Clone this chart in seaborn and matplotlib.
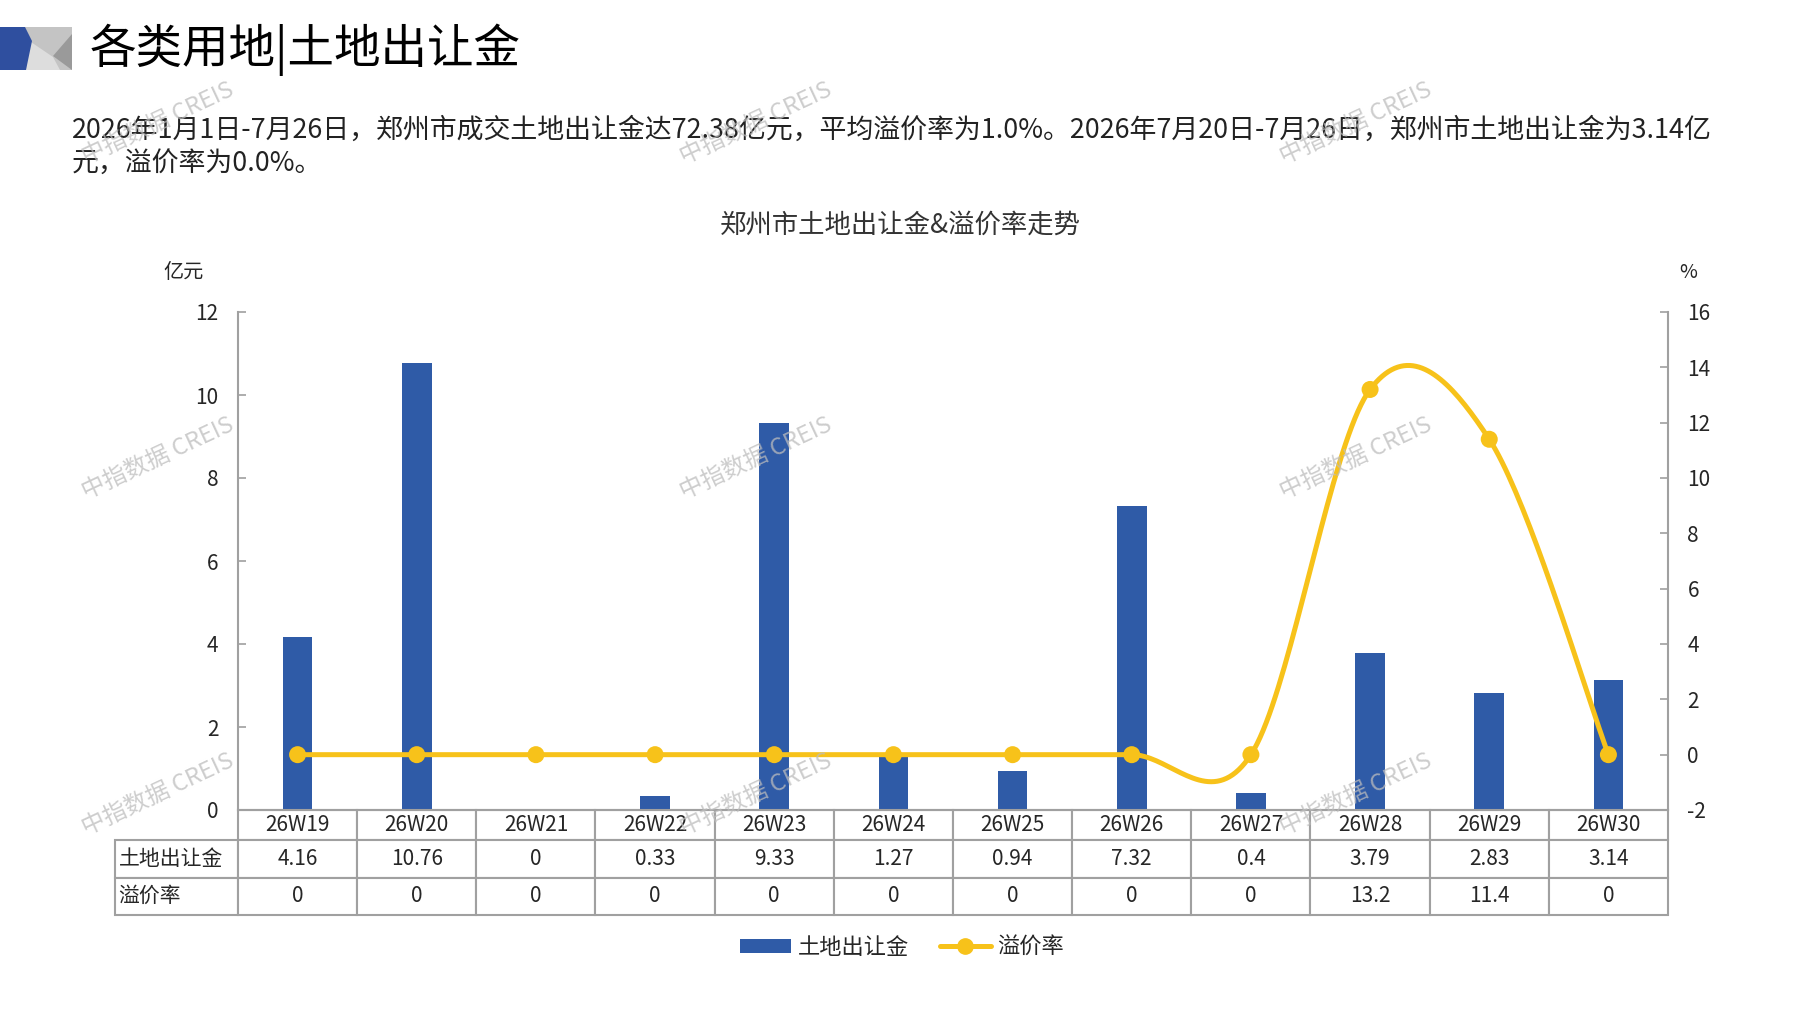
"""
郑州市土地出让金 & 溢价率走势 (weekly bars + smoothed premium line + data table)
"""

import numpy as np
import matplotlib
matplotlib.use("Agg")
import matplotlib.pyplot as plt
from matplotlib.patches import Polygon, Patch
from matplotlib.lines import Line2D
import seaborn as sns

# ── data ──────────────────────────────────────────────────────────────
WEEKS = ["26W19", "26W20", "26W21", "26W22", "26W23", "26W24",
         "26W25", "26W26", "26W27", "26W28", "26W29", "26W30"]
LAND_FEE = [4.16, 10.76, 0, 0.33, 9.33, 1.27, 0.94, 7.32, 0.4, 3.79, 2.83, 3.14]
PREMIUM = [0, 0, 0, 0, 0, 0, 0, 0, 0, 13.2, 11.4, 0]

SERIES_NAMES = ["土地出让金", "溢价率"]
LEFT_TICKS = [0, 2, 4, 6, 8, 10, 12]
RIGHT_TICKS = [-2, 0, 2, 4, 6, 8, 10, 12, 14, 16]

HEADER = "各类用地|土地出让金"
SUMMARY_1 = ("2026年1月1日-7月26日，郑州市成交土地出让金达72.38亿元，平均溢价率为1.0%。"
             "2026年7月20日-7月26日，郑州市土地出让金为3.14亿")
SUMMARY_2 = "元，溢价率为0.0%。"
CHART_TITLE = "郑州市土地出让金&溢价率走势"
WATERMARK = "中指数据 CREIS"

BLUE = "#2F5BA7"
GOLD = "#F7C21A"
LINE_GREY = "#A0A0A0"

W, H = 1797, 1010
FONTS = ["Noto Sans CJK SC", "DejaVu Sans"]


def fx(px):
    return px / W


def fy(py):
    return 1 - py / H


def excel_smooth(values, n=40):
    # bezier segments like the office "smoothed line" option
    y = np.asarray(values, dtype=float)
    x = np.arange(len(y), dtype=float)
    last = len(y) - 1
    xs, ys = [], []
    t = np.linspace(0, 1, n)
    for i in range(last):
        i0 = max(i - 1, 0)
        i3 = min(i + 2, last)
        p1 = np.array([x[i], y[i]])
        p2 = np.array([x[i + 1], y[i + 1]])
        c1 = p1 + (p2 - np.array([x[i0], y[i0]])) / 6
        c2 = p2 - (np.array([x[i3], y[i3]]) - p1) / 6
        b = ((1 - t) ** 3)[:, None] * p1 + (3 * (1 - t) ** 2 * t)[:, None] * c1 \
            + (3 * (1 - t) * t ** 2)[:, None] * c2 + (t ** 3)[:, None] * p2
        xs.append(b[:, 0])
        ys.append(b[:, 1])
    return np.concatenate(xs), np.concatenate(ys)


def main():
    sns.set_style("white")
    plt.rcParams["font.family"] = FONTS
    plt.rcParams["axes.unicode_minus"] = False

    fig = plt.figure(figsize=(W / 100, H / 100), dpi=100)
    fig.patch.set_facecolor("white")

    # ── header block ──────────────────────────────────────────────────
    for pts, col in [
        ([(25, 27), (72, 27), (72, 70), (25, 70)], "#C4C4C4"),
        ([(28, 40), (53, 57), (60, 70), (26, 70)], "#DDDDDD"),
        ([(53, 56), (72, 34), (72, 70)], "#9A9A9A"),
        ([(0, 27), (25, 27), (32, 41), (26, 70), (0, 70)], "#2F4F9F"),
    ]:
        fig.patches.append(Polygon([(fx(a), fy(b)) for a, b in pts], closed=True,
                                   facecolor=col, edgecolor="none",
                                   transform=fig.transFigure))
    fig.text(fx(90), fy(50), HEADER, fontsize=33.5, va="center", ha="left", color="black")
    fig.text(fx(72), fy(130), SUMMARY_1, fontsize=19.4, va="center", ha="left", color="#222222")
    fig.text(fx(72), fy(163), SUMMARY_2, fontsize=19.4, va="center", ha="left", color="#222222")
    fig.text(fx(900), fy(225), CHART_TITLE, fontsize=19, va="center", ha="center", color="#333333")
    fig.text(fx(184), fy(273), "亿元", fontsize=14.5, va="center", ha="center")
    fig.text(fx(1688), fy(273), "%", fontsize=14, va="center", ha="center")

    # ── chart ─────────────────────────────────────────────────────────
    left, right, top, bottom = 238, 1668, 312, 810
    ax = fig.add_axes([fx(left), fy(bottom), (right - left) / W, (bottom - top) / H])
    sns.barplot(x=WEEKS, y=LAND_FEE, ax=ax, color=BLUE, saturation=1,
                width=0.25, linewidth=0)
    ax.set_ylim(0, 12)
    ax.set_yticks(LEFT_TICKS)
    ax.set_xlim(-0.5, len(WEEKS) - 0.5)
    ax.tick_params(axis="x", bottom=False, labelbottom=False)
    ax.tick_params(axis="y", direction="in", length=6, width=1.2, color=LINE_GREY,
                   labelsize=15, pad=14)
    ax.set_xlabel("")
    ax.set_ylabel("")
    for side in ["top", "right"]:
        ax.spines[side].set_visible(False)
    for side in ["left", "bottom"]:
        ax.spines[side].set_color(LINE_GREY)
        ax.spines[side].set_linewidth(1.5)

    ax2 = ax.twinx()
    sx, sy = excel_smooth(PREMIUM)
    ax2.plot(sx, sy, color=GOLD, linewidth=3.6, solid_capstyle="round", zorder=3)
    sns.scatterplot(x=np.arange(len(PREMIUM)), y=PREMIUM, ax=ax2, color=GOLD,
                    s=150, edgecolor="none", zorder=4, legend=False)
    ax2.set_ylim(-2, 16)
    ax2.set_yticks(RIGHT_TICKS)
    ax2.set_xlim(-0.5, len(WEEKS) - 0.5)
    ax2.tick_params(axis="y", direction="in", length=6, width=1.2, color=LINE_GREY,
                    labelsize=15, pad=14)
    ax2.tick_params(axis="x", bottom=False, labelbottom=False)
    ax2.set_ylabel("")
    for side in ["top", "left", "bottom"]:
        ax2.spines[side].set_visible(False)
    ax2.spines["right"].set_color(LINE_GREY)
    ax2.spines["right"].set_linewidth(1.5)

    # ── data table under the axis ─────────────────────────────────────
    label_w = 123
    week_w = (right - left) / len(WEEKS)
    total_w = label_w + week_w * len(WEEKS)
    cell_text = [
        [SERIES_NAMES[0]] + [f"{v:g}" for v in LAND_FEE],
        [SERIES_NAMES[1]] + [f"{v:g}" for v in PREMIUM],
    ]
    tbl = ax.table(cellText=cell_text, colLabels=[""] + WEEKS,
                   colWidths=[label_w / total_w] + [week_w / total_w] * len(WEEKS),
                   cellLoc="center",
                   bbox=[-label_w / (right - left), -105 / (bottom - top),
                         total_w / (right - left), 105 / (bottom - top)])
    tbl.auto_set_font_size(False)
    tbl.set_fontsize(15)
    for (r, c), cell in tbl.get_celld().items():
        cell.set_edgecolor(LINE_GREY)
        cell.set_linewidth(1.5)
        cell.set_clip_on(False)
        cell.set_height(0.030 if r == 0 else 0.0375)
        if c == 0:
            cell._loc = "left"
            cell.PAD = 0.03
            cell.get_text().set_ha("left")
    tbl[0, 0].visible_edges = "open"

    # ── legend ────────────────────────────────────────────────────────
    handles = [
        Patch(facecolor=BLUE, edgecolor="none"),
        Line2D([], [], color=GOLD, linewidth=3.6, marker="o", markersize=11),
    ]
    fig.legend(handles, SERIES_NAMES, loc="center", ncol=2, frameon=False,
               bbox_to_anchor=(fx(902), fy(947)), fontsize=16, handlelength=2.3,
               handleheight=0.6, columnspacing=1.4, handletextpad=0.3)

    # ── watermark ─────────────────────────────────────────────────────
    for wx in [158, 756, 1356]:
        for wy in [123, 458, 794]:
            fig.text(fx(wx), fy(wy), WATERMARK, fontsize=17, rotation=25,
                     color="#BDBDBD", alpha=0.75, ha="center", va="center", zorder=10)

    fig.savefig("out.png", dpi=100)
    plt.close(fig)


if __name__ == "__main__":
    main()
